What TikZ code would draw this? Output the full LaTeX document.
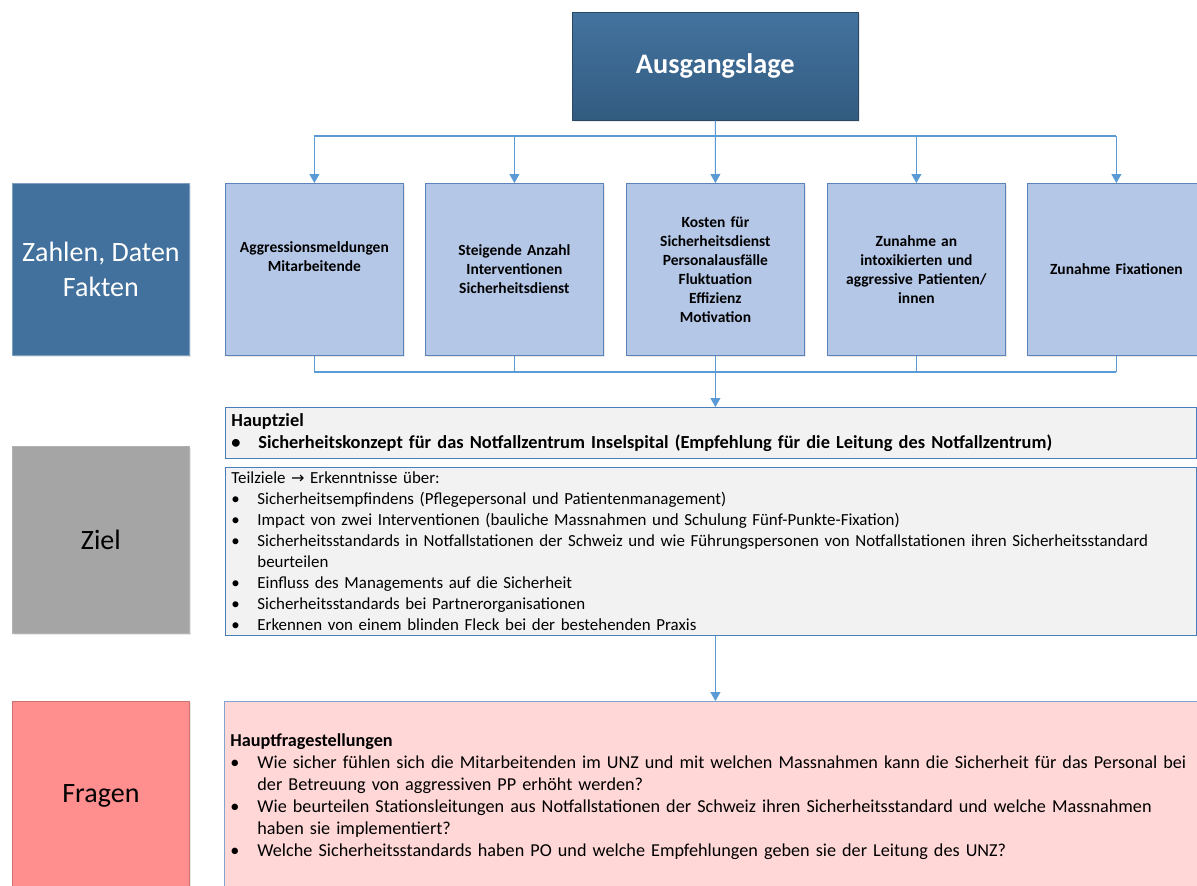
\documentclass[tikz,border=0pt]{standalone}
\usepackage{fontspec}
\setmainfont{Carlito}
\newfontfamily\djv{DejaVu Sans}
\usetikzlibrary{arrows.meta,shadows}
\definecolor{conn}{HTML}{5B9BD5}
\definecolor{topA}{HTML}{43739F}
\definecolor{topB}{HTML}{335B80}
\definecolor{zfill}{HTML}{41719C}
\definecolor{zline}{HTML}{7F9FC2}
\definecolor{ffill}{HTML}{B4C7E7}
\definecolor{fline}{HTML}{5B83BA}
\definecolor{gfill}{HTML}{F2F2F2}
\definecolor{gline}{HTML}{4A7EBB}
\definecolor{zielfill}{HTML}{A5A5A5}
\definecolor{fragfill}{HTML}{FF8F8F}
\definecolor{pinkfill}{HTML}{FFD7D7}
\begin{document}
\begin{tikzpicture}[x=1pt,y=-1pt,
  shd/.style={drop shadow={opacity=0.18,shadow xshift=1.5pt,shadow yshift=-1.5pt}},
  topbox/.style={shd,draw=topB!80!black,line width=0.6pt,top color=topA,bottom color=topB,
    text=white,font=\fontsize{28.3}{32}\selectfont\bfseries,inner sep=0pt,anchor=north west},
  labelbox/.style={shd,draw=zline,line width=0.8pt,text=white,align=center,inner sep=0pt,
    anchor=north west,minimum width=177pt,font=\fontsize{28}{35}\selectfont},
  factbox/.style={shd,draw=fline,line width=0.8pt,fill=ffill,align=center,inner sep=0pt,
    anchor=north west,minimum width=178pt,minimum height=172pt,text width=172pt,
    font=\fontsize{15.5}{19}\selectfont\bfseries},
  zbox/.style={draw=gline,line width=0.8pt,fill=gfill,align=left,anchor=north west,
    inner xsep=6pt,inner ysep=0pt},
  conn/.style={draw=conn,line width=1.1pt},
  arr/.style={conn,-{Triangle[width=10pt,length=9pt]}}
]
\clip (0,0) rectangle (1197,886);
\fill[white] (0,0) rectangle (1197,886);

% top box
\node[topbox,minimum width=286pt,minimum height=108pt] (aus) at (572,12) {Ausgangslage};

% left labels
\node[labelbox,fill=zfill,minimum height=172pt] (zdf) at (12,183) {Zahlen, Daten\\Fakten};
\node[labelbox,fill=zielfill,draw=gray!60,text=black,minimum height=187pt] (zl) at (12,446) {Ziel};
\node[labelbox,fill=fragfill,draw=fragfill!80!black,text=black,minimum height=190pt] (fl) at (12,701) {Fragen};

% fact boxes
\node[factbox] (b1) at (225,183) {Aggressionsmeldungen\\Mitarbeitende\\\strut};
\node[factbox] (b2) at (425,183) {Steigende Anzahl\\Interventionen\\Sicherheitsdienst};
\node[factbox] (b3) at (626,183) {Kosten für\\Sicherheitsdienst\\Personalausfälle\\Fluktuation\\Effizienz\\Motivation};
\node[factbox] (b4) at (827,183) {Zunahme an\\intoxikierten und\\aggressive Patienten/\\innen};
\node[factbox] (b5) at (1027,183) {Zunahme Fixationen};

% connectors top
\coordinate (topbar) at (0,136);
\coordinate (botbar) at (0,372);
\draw[conn] (b1.north |- topbar) -- (b5.north |- topbar);
\draw[arr] (aus.south) -- (b3.north);
\foreach \b in {b1,b2,b4,b5} \draw[arr] (\b.north |- topbar) -- (\b.north);

% Hauptziel box
\node[zbox,minimum width=971pt,minimum height=51pt,text width=959pt,
  font=\fontsize{18.4}{22}\selectfont\bfseries] (hz) at (225,407)
  {Hauptziel\\\makebox[27pt][l]{•}Sicherheitskonzept für das Notfallzentrum Inselspital (Empfehlung für die Leitung des Notfallzentrum)};

% Teilziele box
\node[zbox,minimum width=971pt,minimum height=168pt,text width=959pt,
  font=\fontsize{16.9}{21}\selectfont] (tz) at (225,467)
  {Teilziele {\djv\fontsize{16}{21}\selectfont →} Erkenntnisse über:\\
  \makebox[26pt][l]{•}Sicherheitsempfindens (Pflegepersonal und Patientenmanagement)\\
  \makebox[26pt][l]{•}Impact von zwei Interventionen (bauliche Massnahmen und Schulung Fünf-Punkte-Fixation)\\
  \makebox[26pt][l]{•}Sicherheitsstandards in Notfallstationen der Schweiz und wie Führungspersonen von Notfallstationen ihren Sicherheitsstandard\\
  \hspace*{26pt}beurteilen\\
  \makebox[26pt][l]{•}Einfluss des Managements auf die Sicherheit\\
  \makebox[26pt][l]{•}Sicherheitsstandards bei Partnerorganisationen\\
  \makebox[26pt][l]{•}Erkennen von einem blinden Fleck bei der bestehenden Praxis};

% bottom connectors
\foreach \b in {b1,b2,b3,b4,b5} \draw[conn] (\b.south) -- (\b.south |- botbar);
\draw[conn] (b1.south |- botbar) -- (b5.south |- botbar);
\draw[arr] (b3.south |- botbar) -- (hz.north -| b3.south);

% Fragen box
\node[zbox,draw=gline!70,fill=pinkfill,minimum width=990pt,minimum height=190pt,text width=978pt,
  font=\fontsize{18.2}{22}\selectfont] (fr) at (224,701)
  {\textbf{Hauptfragestellungen}\\
  \makebox[27pt][l]{•}Wie sicher fühlen sich die Mitarbeitenden im UNZ und mit welchen Massnahmen kann die Sicherheit für das Personal bei\\
  \hspace*{27pt}der Betreuung von aggressiven PP erhöht werden?\\
  \makebox[27pt][l]{•}Wie beurteilen Stationsleitungen aus Notfallstationen der Schweiz ihren Sicherheitsstandard und welche Massnahmen\\
  \hspace*{27pt}haben sie implementiert?\\
  \makebox[27pt][l]{•}Welche Sicherheitsstandards haben PO und welche Empfehlungen geben sie der Leitung des UNZ?};

\draw[arr] (tz.south -| b3.south) -- (fr.north -| b3.south);
\end{tikzpicture}
\end{document}
